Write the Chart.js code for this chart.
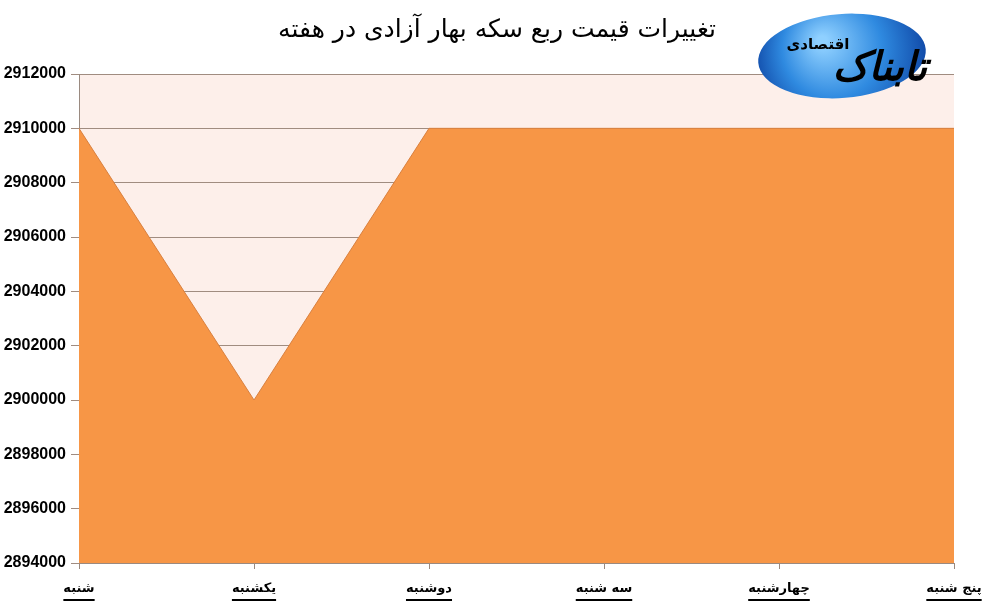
<!DOCTYPE html>
<html>
<head>
<meta charset="utf-8">
<script src="https://cdn.jsdelivr.net/npm/chart.js@4.4.0/dist/chart.umd.min.js"></script>
<style>
  body { margin: 0; background: #fff; }
  #wrap { width: 988px; height: 606px; }
</style>
</head>
<body>
<div id="wrap"><canvas id="Chart" width="988" height="606"></canvas></div>
<script>
// Data
const days = ["شنبه", "یکشنبه", "دوشنبه", "سه شنبه", "چهارشنبه", "پنج شنبه"];
const prices = [2910000, 2900000, 2910000, 2910000, 2910000, 2910000];
const titleText = "تغییرات قیمت ربع سکه بهار آزادی در هفته";

// plot background + title + logo + underlined labels
const decor = {
  id: 'decor',
  beforeDraw(chart) {
    const { ctx, chartArea: a } = chart;
    ctx.save();
    ctx.fillStyle = '#FDEFEA';
    ctx.fillRect(a.left, a.top, a.right - a.left, a.bottom - a.top);
    ctx.restore();
  },
  afterDraw(chart) {
    const ctx = chart.ctx;
    const x = chart.scales.x;
    ctx.save();
    // title
    ctx.fillStyle = '#000';
    ctx.font = '25px "DejaVu Sans"';
    ctx.textAlign = 'center';
    ctx.textBaseline = 'middle';
    ctx.fillText(titleText, 497, 30);

    // underline under x labels
    ctx.font = 'bold 13px "DejaVu Sans"';
    ctx.strokeStyle = '#000';
    ctx.lineWidth = 2;
    days.forEach((d, i) => {
      const px = x.getPixelForTick(i);
      const w = ctx.measureText(d).width;
      ctx.beginPath();
      ctx.moveTo(px - w / 2, 600);
      ctx.lineTo(px + w / 2, 600);
      ctx.stroke();
    });

    // logo
    const cx = 842, cy = 56;
    const g = ctx.createRadialGradient(cx - 20, cy - 15, 5, cx, cy, 95);
    g.addColorStop(0, '#8fd0ff');
    g.addColorStop(0.5, '#2f8ae0');
    g.addColorStop(1, '#0a3c9c');
    ctx.fillStyle = g;
    ctx.beginPath();
    ctx.ellipse(cx, cy, 84, 42, -0.08, 0, Math.PI * 2);
    ctx.fill();
    ctx.fillStyle = '#000';
    ctx.font = 'italic bold 40px "DejaVu Sans"';
    ctx.fillText("تابناک", 880, 70);
    ctx.font = 'bold 15px "DejaVu Sans"';
    ctx.fillText("اقتصادی", 818, 45);
    ctx.restore();
  }
};

const config = {
  type: 'line',
  data: {
    labels: days,
    datasets: [{
      data: prices,
      fill: 'start',
      backgroundColor: '#F79646',
      borderColor: '#D9803F',
      borderWidth: 1,
      pointRadius: 0,
      tension: 0
    }]
  },
  options: {
    responsive: false,
    animation: false,
    layout: { padding: { top: 74, right: 34, left: 0, bottom: 0 } },
    plugins: {
      legend: { display: false },
      title: { display: false },
      tooltip: { enabled: false }
    },
    scales: {
      x: {
        offset: false,
        grid: { display: true, drawOnChartArea: false, drawTicks: true, tickLength: 6, color: '#9a8a80' },
        border: { color: '#9a8a80' },
        ticks: {
          color: '#000',
          font: { family: 'DejaVu Sans', size: 13, weight: 'bold' },
          maxRotation: 0,
          autoSkip: false,
          padding: 12
        },
        afterFit(s) { s.height = 43; s.paddingRight = 0; s.paddingLeft = 0; }
      },
      y: {
        min: 2894000,
        max: 2912000,
        grid: { color: '#a08c80', tickLength: 8 },
        border: { color: '#9a8a80' },
        ticks: {
          stepSize: 2000,
          color: '#000',
          font: { family: 'Liberation Sans', size: 16, weight: 'bold' },
          padding: 5,
          callback: v => String(v)
        },
        afterFit(s) { s.width = 79; s.paddingTop = 0; s.paddingBottom = 0; }
      }
    }
  },
  plugins: [decor]
};

window.addEventListener('load', () => {
  new Chart(document.getElementById('Chart'), config);
});
</script>
</body>
</html>
